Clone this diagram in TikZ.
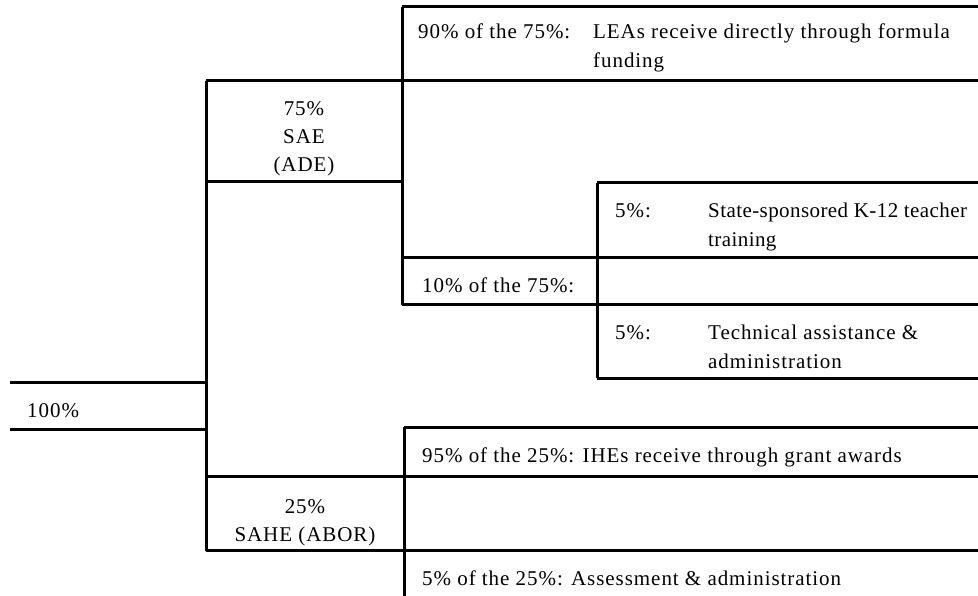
\documentclass[tikz,border=0pt]{standalone}
\usepackage{fontspec}
\setmainfont{Liberation Serif}[LetterSpace=4.5]
\usepackage{tikz}
\tikzstyle{rule} = [draw, line width=3pt]
\tikzstyle{share} = [anchor=base west, inner sep=0pt,
    font=\fontsize{21}{29}\selectfont]
\tikzstyle{purpose} = [anchor=base west, align=left, inner sep=0pt,
    font=\fontsize{21}{29}\selectfont]
\tikzstyle{tight} = [font=\fontsize{21}{29}\selectfont\addfontfeature{LetterSpace=2}]
\tikzstyle{agency} = [anchor=base, align=center, inner sep=0pt,
    font=\fontsize{21}{28}\selectfont]

\begin{document}
\begin{tikzpicture}[x=1pt, y=-1pt]
    \useasboundingbox (0,0) rectangle (978,596);
    % Place nodes (base anchor sits on the last line)
    \node [share] (total) at (27,417) {100\%};
    \node [agency] (sae) at (304,172) {75\%\\SAE\\(ADE)};
    \node [agency] (sahe) at (305,541) {25\%\\SAHE (ABOR)};
    \node [share] (lea) at (418,39) {90\% of the 75\%:};
    \node [purpose] (leatext) at (593,68) {LEAs receive directly through formula\\funding};
    \node [share] (ade) at (422,293) {10\% of the 75\%:};
    \node [share] (train) at (615,218) {5\%:};
    \node [purpose, tight] (traintext) at (708,247) {State-sponsored K-12 teacher\\training};
    \node [share] (tech) at (615,339) {5\%:};
    \node [purpose] (techtext) at (708,368) {Technical assistance \&\\administration};
    \node [share] (ihe) at (422,462) {95\% of the 25\%: IHEs receive through grant awards};
    \node [share] (abor) at (422,585) {5\% of the 25\%: Assessment \& administration};
    % Draw lines
    \path [rule] (10,382) -- (206,382);
    \path [rule] (10,429) -- (206,429);
    \path [rule] (206,81) -- (206,551);
    \path [rule] (206,81) -- (978,81);
    \path [rule] (206,182) -- (402,182);
    \path [rule] (402,7) -- (402,305);
    \path [rule] (402,7) -- (978,7);
    \path [rule] (597,183) -- (978,183);
    \path [rule] (597,183) -- (597,378);
    \path [rule] (402,258) -- (978,258);
    \path [rule] (402,305) -- (978,305);
    \path [rule] (597,378) -- (978,378);
    \path [rule] (404,427) -- (978,427);
    \path [rule] (404,427) -- (404,596);
    \path [rule] (206,476) -- (978,476);
    \path [rule] (206,550) -- (978,550);
\end{tikzpicture}
\end{document}
